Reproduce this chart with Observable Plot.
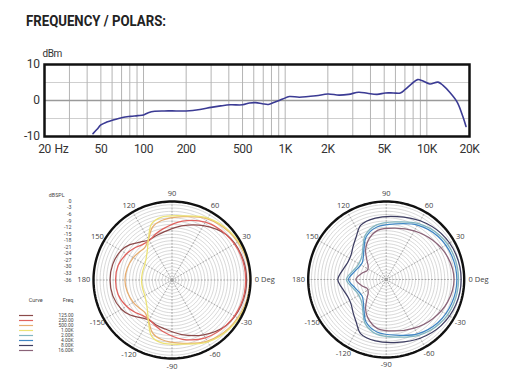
<!DOCTYPE html>
<html><head><meta charset="utf-8">
<script src="https://cdn.jsdelivr.net/npm/d3@7"></script>
<script src="https://cdn.jsdelivr.net/npm/@observablehq/plot@0.6"></script>
<style>
html,body{margin:0;padding:0;background:#fff;}
#root{position:relative;width:512px;height:384px;overflow:hidden;background:#fff;}
#title{position:absolute;left:26px;top:14px;font-family:Roboto,"Liberation Sans",sans-serif;font-weight:bold;font-size:15.5px;line-height:1;color:#222;white-space:nowrap;transform-origin:0 0;display:inline-block;}
svg{position:absolute;}
</style></head>
<body><div id="root"><div id="title"></div></div>
<script>
// ---------- data ----------
const titleText = "FREQUENCY / POLARS:";

// frequency response (Hz, dBm)
const respFreqHz = [44, 47, 50, 55, 61, 71, 81, 91, 100, 108, 120, 140, 170, 200, 250, 300, 350, 410, 500, 560, 620, 690, 760, 840, 960, 1070, 1260, 1650, 2000, 2400, 2800, 3300, 3800, 4450, 5100, 5800, 6500, 7000, 7800, 8600, 9400, 10500, 12000, 13000, 14500, 16400, 18000, 18900];
const respDb = [-9.2, -8.0, -6.8, -6.0, -5.4, -4.7, -4.4, -4.2, -4.0, -3.4, -3.0, -2.9, -2.9, -2.9, -2.5, -1.9, -1.5, -1.2, -1.2, -0.7, -0.6, -0.9, -1.1, -0.5, 0.4, 1.1, 0.9, 1.3, 1.8, 1.5, 1.7, 2.3, 2.0, 1.7, 2.1, 2.1, 2.1, 3.0, 4.6, 5.8, 5.4, 4.6, 5.1, 4.2, 2.3, -0.5, -4.6, -7.2];

const freqTicks = [20, 50, 100, 200, 500, 1000, 2000, 5000, 10000, 20000];
const freqTickLabels = ["20", "50", "100", "200", "500", "1K", "2K", "5K", "10K", "20K"];
const freqGrid = [30, 40, 50, 60, 70, 80, 90, 100, 200, 300, 400, 500, 600, 700, 800, 900, 1000, 2000, 3000, 4000, 5000, 6000, 7000, 8000, 9000, 10000];
const dbTicks = [-10, 0, 10];
const dbGrid = [-5, 5];

// polar scale
const polarDbTicks = [0, -3, -6, -9, -12, -15, -18, -21, -24, -27, -30, -33, -36];
const ringDb = [-34.5, -33, -31.5, -30, -28.5, -27, -25.5, -24, -22.5, -21, -19.5, -18, -16.5, -15, -13.5, -12, -10.5, -9, -7.5, -6, -4.5, -3, -1.5];
const spokeDeg = [0, 30, 60, 90, 120, 150, 180, 210, 240, 270, 300, 330];
const spokeLabels = ["0 Deg", "30", "60", "90", "120", "150", "180", "-150", "-120", "-90", "-60", "-30"];

// legend
const legendFreqs = ["125.00", "250.00", "500.00", "1.00K", "2.00K", "4.00K", "8.00K", "16.00K"];
const legendColors = ["#8c4a4a", "#e0625e", "#e6ad70", "#ece274", "#82b6c0", "#3f86c4", "#3d3d62", "#8a6378"];

// left polar: 125, 250, 500, 1K  (angle deg, dBSPL)
const leftAngles = [0, 20, 40, 60, 80, 100, 110, 120, 130, 140, 150, 165, 180, 195, 210, 220, 230, 240, 250, 260, 280, 300, 320, 340];
const db125 = [-1.8, -2.2, -3.6, -7.2, -10.8, -13.7, -14.4, -14.8, -13.3, -10.8, -9.0, -7.9, -7.6, -7.9, -9.2, -11.0, -13.5, -14.8, -14.2, -13.5, -10.6, -7.0, -3.6, -2.2];
const db250 = [-2.2, -2.5, -3.6, -5.4, -8.6, -12.2, -13.7, -15.1, -14.8, -13.3, -11.9, -10.4, -10.1, -10.4, -11.9, -13.3, -14.8, -15.1, -13.7, -12.0, -8.4, -5.4, -3.6, -2.5];
const db500 = [-0.4, -0.7, -1.8, -3.6, -6.5, -8.3, -10.1, -14.4, -16.6, -16.2, -15.5, -14.8, -14.4, -14.8, -15.5, -16.2, -16.6, -14.4, -10.1, -8.3, -6.5, -3.6, -1.8, -0.7];
const db1k = [0, -0.4, -1.4, -3.2, -6.1, -6.8, -8.6, -14.4, -18.4, -20.5, -21.6, -22.0, -22.0, -22.0, -21.6, -20.5, -18.4, -14.4, -8.6, -6.8, -6.1, -3.2, -1.4, -0.4];

// right polar: 2K, 4K, 8K, 16K
const rightAngles = [0, 20, 40, 60, 80, 100, 115, 125, 135, 145, 155, 165, 180, 195, 205, 215, 225, 235, 245, 260, 280, 300, 320, 340];
const db2k = [-2.6, -2.9, -4.0, -6.2, -9.0, -10.4, -13.3, -17.3, -20.2, -21.3, -21.3, -20.2, -17.6, -20.2, -21.3, -21.3, -20.2, -17.3, -13.3, -10.4, -9.0, -6.2, -4.0, -2.9];
const db4k = [-3.4, -3.8, -4.9, -7.0, -9.9, -11.4, -14.2, -18.2, -21.1, -22.5, -22.2, -21.1, -18.6, -21.1, -22.2, -22.5, -21.1, -18.2, -14.2, -11.4, -9.9, -7.0, -4.9, -3.8];
const db8k = [-1.4, -1.8, -2.9, -4.7, -6.5, -7.2, -8.3, -11.9, -14.4, -16.2, -16.6, -15.8, -13.7, -15.8, -16.6, -16.2, -14.4, -11.9, -8.3, -7.2, -6.5, -4.7, -2.9, -1.8];
const db16k = [-4.7, -5.8, -7.9, -10.1, -11.9, -13.0, -16.2, -19.4, -23.4, -25.9, -26.3, -24.5, -22.0, -24.5, -26.3, -25.9, -23.4, -19.4, -16.2, -13.0, -11.9, -10.1, -7.9, -5.8];

// ---------- drawing ----------
const AXISFONT = 'Roboto,"Liberation Sans",sans-serif';
const SANS = '"Open Sans","Liberation Sans",sans-serif';
const SMALL = 'Roboto,"Liberation Sans",sans-serif';
const root = document.getElementById("root");
const titleEl = document.getElementById("title");
titleEl.textContent = titleText;
function fitTitle() {
  titleEl.style.transform = "none";
  const w = titleEl.getBoundingClientRect().width;
  if (w > 0) titleEl.style.transform = `scaleX(${140 / w})`;
}
fitTitle();
if (document.fonts && document.fonts.ready) document.fonts.ready.then(fitTitle);
function place(svg, left, top) { svg.style.left = left + "px"; svg.style.top = top + "px"; root.appendChild(svg); }

// top: frequency response
const resp = respFreqHz.map((f, i) => ({f, db: respDb[i]}));
const topChart = Plot.plot({
  width: 512, height: 165,
  marginLeft: 44, marginRight: 43, marginTop: 64, marginBottom: 29,
  style: {background: "transparent", fontFamily: AXISFONT, fontSize: "12px", color: "#333", overflow: "visible", letterSpacing: "-0.4px"},
  x: {type: "log", domain: [20, 20000], axis: null},
  y: {domain: [-10, 10], axis: null},
  marks: [
    Plot.ruleY(dbGrid, {stroke: "#cfcfcf", strokeWidth: 1}),
    Plot.ruleX(freqGrid, {stroke: "#b4b4b4", strokeWidth: 1}),
    Plot.ruleY([0], {stroke: "#9a9a9a", strokeWidth: 1.6}),
    Plot.line(resp, {x: "f", y: "db", stroke: "#3b3b94", strokeWidth: 1.6, curve: "catmull-rom"}),
    Plot.frame({stroke: "#111", strokeWidth: 2.5}),
    Plot.text(freqTicks, {x: d => d, y: -10, text: (d, i) => freqTickLabels[i], dy: 13}),
    Plot.text(dbTicks, {x: 20, y: d => d, text: d => String(d), dx: -5, textAnchor: "end"}),
    Plot.text(["dBm"], {x: 20, y: 10, text: d => d, dy: -11, dx: -2, textAnchor: "start", fontSize: 10}),
    Plot.text(["Hz"], {x: 20, y: -10, text: d => d, dx: 10, dy: 13, textAnchor: "start"})
  ]
});
place(topChart, 0, 0);

// polar helper
const rad = d => d * Math.PI / 180;
function polarPlot({angles, curves, freqs, width, height, cx, cy, R}) {
  const pts = [];
  curves.forEach((dbs, k) => dbs.forEach((db, i) => pts.push({freq: freqs[k], deg: angles[i], db})));
  const ringPts = [];
  ringDb.forEach(L => { for (let a = 0; a < 360; a += 3) ringPts.push({L, a}); });
  const outerPts = [];
  for (let a = 0; a < 360; a += 2) outerPts.push({a});
  const mid = spokeDeg.map((a, i) => ({a, t: spokeLabels[i]})).filter(d => d.a !== 0 && d.a !== 180);
  return Plot.plot({
    width, height, margin: 0,
    style: {background: "transparent", fontFamily: SANS, fontSize: "7.5px", color: "#444", overflow: "visible"},
    x: {domain: [-36, 36], range: [cx - R, cx + R], axis: null},
    y: {domain: [-36, 36], range: [cy + R, cy - R], axis: null},
    color: {domain: legendFreqs, range: legendColors},
    marks: [
      Plot.line(ringPts, {x: d => (d.L + 36) * Math.cos(rad(d.a)), y: d => (d.L + 36) * Math.sin(rad(d.a)), z: "L", stroke: "#bdbdbd", strokeWidth: 0.6, curve: "linear-closed"}),
      Plot.link(spokeDeg, {x1: 0, y1: 0, x2: a => 36 * Math.cos(rad(a)), y2: a => 36 * Math.sin(rad(a)), stroke: "#8c8c8c", strokeWidth: 0.7, strokeDasharray: "2,1.2"}),
      Plot.dot([0], {x: 0, y: 0, r: 1.6, fill: "#999"}),
      Plot.line(pts, {x: d => (d.db + 36) * Math.cos(rad(d.deg)), y: d => (d.db + 36) * Math.sin(rad(d.deg)), z: "freq", stroke: "freq", strokeWidth: 1.25, curve: "catmull-rom-closed"}),
      Plot.line(outerPts, {x: d => 36 * Math.cos(rad(d.a)), y: d => 36 * Math.sin(rad(d.a)), stroke: "#111", strokeWidth: 2.4, curve: "linear-closed"}),
      Plot.text(mid, {x: d => 39.5 * Math.cos(rad(d.a)), y: d => 39.5 * Math.sin(rad(d.a)), text: "t"}),
      Plot.text(["0 Deg"], {x: 38, y: 0, text: d => d, textAnchor: "start"}),
      Plot.text(["180"], {x: -37.5, y: 0, text: d => d, textAnchor: "end"})
    ]
  });
}

const leftPolar = polarPlot({angles: leftAngles, curves: [db125, db250, db500, db1k], freqs: legendFreqs.slice(0, 4), width: 180, height: 200, cx: 91.5, cy: 99.5, R: 78.5});
place(leftPolar, 80, 180);
const rightPolar = polarPlot({angles: rightAngles, curves: [db2k, db4k, db8k, db16k], freqs: legendFreqs.slice(4), width: 215, height: 200, cx: 95.7, cy: 99, R: 78});
place(rightPolar, 290, 180);

// dBSPL scale
const scaleChart = Plot.plot({
  width: 80, height: 100, margin: 0,
  style: {background: "transparent", fontFamily: SMALL, fontSize: "5.3px", color: "#444"},
  x: {domain: [0, 1], range: [0, 71], axis: null},
  y: {domain: [-36, 0], range: [94.3, 15.7], axis: null},
  marks: [
    Plot.text(polarDbTicks, {x: 1, y: d => d, text: d => String(d), textAnchor: "end"}),
    Plot.text(["dBSPL"], {x: 1, y: 0, text: d => d, dx: -7, dy: -6, textAnchor: "end"})
  ]
});
place(scaleChart, 0, 185);

// legend
const legendChart = Plot.plot({
  width: 80, height: 72, margin: 0,
  style: {background: "transparent", fontFamily: SMALL, fontSize: "4.9px", color: "#444"},
  x: {domain: [0, 1], range: [19, 73], axis: null},
  y: {type: "point", domain: legendFreqs, range: [20.5, 64.6], axis: null},
  color: {domain: legendFreqs, range: legendColors},
  marks: [
    Plot.ruleY(legendFreqs, {y: d => d, x1: 0, x2: 0.26, stroke: d => d, strokeWidth: 1.2}),
    Plot.text(legendFreqs, {x: 1, y: d => d, text: d => d, textAnchor: "end"}),
    Plot.text(["Curve"], {x: 0.3, frameAnchor: "top", dy: 8, text: d => d, fontSize: 5.5}),
    Plot.text(["Freq"], {x: 1, frameAnchor: "top", dy: 8, text: d => d, textAnchor: "end", fontSize: 5.5})
  ]
});
place(legendChart, 0, 290);
</script>
</body></html>
